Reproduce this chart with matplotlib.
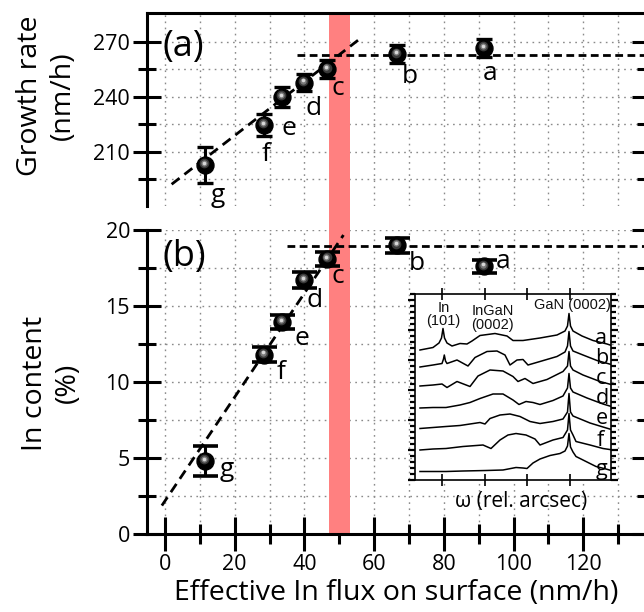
import matplotlib
matplotlib.use("Agg")
import matplotlib.pyplot as plt
import matplotlib.transforms as mtransforms
from matplotlib.patches import Rectangle
from matplotlib.ticker import MultipleLocator, FixedLocator, NullFormatter

plt.rcParams['font.family'] = ['Open Sans', 'DejaVu Sans']

# ---------------- data ----------------
samples = ['a', 'b', 'c', 'd', 'e', 'f', 'g']
in_flux = [91.5, 66.5, 46.6, 39.8, 33.5, 28.3, 11.5]           # nm/h
growth_rate = [266.6, 263.2, 255.0, 247.7, 239.8, 224.6, 202.7]  # nm/h
growth_err = [4.8, 5.0, 5.0, 4.6, 5.6, 5.8, 10.0]
in_content = [17.6, 19.0, 18.1, 16.7, 13.95, 11.8, 4.8]         # %
in_content_err = [0.41, 0.49, 0.46, 0.51, 0.48, 0.49, 0.99]

# guide lines (linear regime and plateau)
gr_slope_x = [1.9, 56.0]
gr_slope_y = [192.2, 271.8]
gr_plateau = 262.7
gr_plateau_start = 37.8
ic_slope_x = [-0.9, 51.2]
ic_slope_y = [1.87, 19.67]
ic_plateau = 18.94
ic_plateau_start = 34.9
transition_band = [47.0, 53.0]

# XRD omega scans (relative units), one per sample
xrd_a_u = [5, 18, 24, 26.5, 28, 29.5, 32, 37, 45, 52, 57, 65, 80, 92, 98, 108, 125, 142, 150, 152.5, 154, 155.5, 158, 167, 178, 192, 198]
xrd_a_v = [130, 132.5, 137, 142, 151.5, 142, 137, 134, 136.5, 136, 139, 144.5, 146.5, 144, 139.5, 139.5, 142, 145, 149, 154, 166.5, 154, 149, 144, 139.5, 136, 134]
xrd_b_u = [5, 18, 27, 28.5, 29.3, 30.5, 32, 42, 53, 60, 72, 82, 90, 95, 102, 108, 113, 125, 142, 150, 152.5, 154, 155.5, 158, 168, 182, 198]
xrd_b_v = [113, 115, 116.5, 121, 125, 119, 116.5, 120, 114, 122.5, 128.5, 129, 125, 115, 120, 120.5, 115, 118.5, 123.5, 128, 134, 148.5, 134, 129, 125, 119.5, 115]
xrd_c_u = [5, 18, 27, 32, 42, 55, 63, 75, 88, 98, 103, 110, 118, 132, 148, 152.5, 154, 155.5, 158, 168, 185, 198]
xrd_c_v = [94, 95, 96, 92.5, 98.5, 93.5, 104, 110, 109, 103.5, 98.5, 101.5, 96.5, 100.5, 108.5, 114, 128.5, 114, 110, 105, 98.5, 95]
xrd_d_u = [5, 18, 31, 45, 55, 65, 78, 88, 98, 104, 111, 118, 125, 138, 148, 152.5, 154, 155.5, 158, 172, 188, 198]
xrd_d_v = [72, 72.5, 72.5, 75, 77.5, 81.5, 86, 86, 80, 75.5, 78.5, 77.5, 75.5, 79.5, 84, 92, 106.5, 92, 88, 82, 76, 73]
xrd_e_u = [5, 18, 31, 45, 55, 65, 70, 75, 85, 95, 105, 115, 125, 138, 148, 152.5, 154, 155.5, 158, 175, 188, 198]
xrd_e_v = [51.5, 52.5, 53.5, 54.5, 56, 57.5, 56, 61.5, 65, 66, 63.5, 58.5, 56.5, 58.5, 61, 68, 86.5, 68, 64, 57, 53, 50]
xrd_f_u = [5, 18, 31, 48, 68, 76, 85, 93, 101, 111, 120, 125, 138, 148, 152.5, 154, 155.5, 158, 161, 175, 188, 198]
xrd_f_v = [30, 31, 31.5, 33.5, 35, 31.5, 40, 45, 46.5, 45, 41, 35, 40, 42.5, 50, 66.5, 50, 45, 38.5, 35, 31.5, 30]
xrd_g_u = [5, 31, 48, 71, 88, 101, 108, 112, 118, 125, 135, 145, 150, 152.5, 154, 155.5, 158, 161, 171, 181, 191, 198]
xrd_g_v = [8.5, 8.5, 9, 9.5, 10, 12.5, 12, 11.5, 17, 21, 24.5, 26.5, 29, 34, 46.5, 33, 28, 23.5, 18.5, 13.5, 11, 9]

# ---------------- layout helpers ----------------
W, H = 644, 612
def fx(px):
    return px / W
def fy(px):
    return 1 - px / H

fig = plt.figure(figsize=(W / 100, H / 100), dpi=100)
left_px, right_px = 146.7, 646.0
ax1 = fig.add_axes([fx(left_px), fy(205.7), fx(right_px) - fx(left_px), fy(13.3) - fy(205.7)])
ax2 = fig.add_axes([fx(left_px), fy(534.0), fx(right_px) - fx(left_px), fy(230.0) - fy(534.0)])

XLIM = (-5.25, 138.0)
band_color = '#ff8080'
grid_kw = dict(color='#8a8a8a', linestyle=(0, (1.2, 3.2)), linewidth=1.0)
LW = 2.2

for ax in (ax1, ax2):
    ax.set_xlim(*XLIM)
    ax.xaxis.set_major_locator(MultipleLocator(20))
    ax.xaxis.set_minor_locator(MultipleLocator(10))
    ax.grid(True, which='both', **grid_kw)
    ax.set_axisbelow(True)
    for sp in ax.spines.values():
        sp.set_linewidth(LW)
    ax.axvspan(transition_band[0], transition_band[1], color=band_color, lw=0, zorder=1)
    ax.tick_params(axis='y', which='major', direction='inout', length=20, width=LW,
                   left=True, right=True, labelsize=15.5, pad=2)
    ax.tick_params(axis='y', which='minor', direction='inout', length=13, width=LW,
                   left=True, right=True)

# band across the gap between the two panels
gap_tr = mtransforms.blended_transform_factory(ax2.transData, fig.transFigure)
fig.add_artist(Rectangle((transition_band[0], fy(230.5)), transition_band[1] - transition_band[0],
                         fy(205.2) - fy(230.5), transform=gap_tr, color=band_color, lw=0, zorder=0))

# ---- panel (a): growth rate ----
ax1.set_ylim(180.5, 285.6)
ax1.yaxis.set_major_locator(FixedLocator([210, 240, 270]))
ax1.yaxis.set_minor_locator(FixedLocator([195, 225, 255]))
ax1.spines['bottom'].set_visible(False)
ax1.tick_params(axis='x', which='both', bottom=False, top=False, labelbottom=False)

# ---- panel (b): In content ----
ax2.set_ylim(0, 20)
ax2.yaxis.set_major_locator(MultipleLocator(5))
ax2.yaxis.set_minor_locator(MultipleLocator(2.5))
ax2.spines['top'].set_visible(False)
ax2.tick_params(axis='x', which='major', direction='inout', length=24.5, width=LW,
                top=False, labelsize=15.5, pad=2)
ax2.tick_params(axis='x', which='minor', direction='inout', length=13.7, width=LW, top=False)


def draw_balls(ax, x, y):
    ax.plot(x, y, 'o', ms=12.2, mfc='black', mec='black', zorder=5)
    for d, col, dx, dy in [(7.0, '#3a3a3a', -0.6, 1.2), (4.6, '#7a7a7a', -0.7, 1.4),
                           (2.6, '#d8d8d8', -0.8, 1.6)]:
        tr = mtransforms.offset_copy(ax.transData, fig=fig, x=dx, y=dy, units='points')
        ax.plot(x, y, 'o', ms=d, mfc=col, mec='none', transform=tr, zorder=6)


dash_slope = (0, (3.6, 2.2))
dash_flat = (0, (2.8, 1.6))

# panel (a) marks
ax1.plot(gr_slope_x, gr_slope_y, color='black', lw=2.0, linestyle=dash_slope, zorder=3)
ax1.plot([gr_plateau_start, XLIM[1]], [gr_plateau, gr_plateau], color='black', lw=2.0,
         linestyle=dash_flat, zorder=3)
ax1.errorbar(in_flux, growth_rate, yerr=growth_err, fmt='none', ecolor='black',
             elinewidth=2.2, capsize=6.0, capthick=2.4, zorder=4)
draw_balls(ax1, in_flux, growth_rate)

# panel (b) marks
ax2.plot(ic_slope_x, ic_slope_y, color='black', lw=2.0, linestyle=dash_slope, zorder=3)
ax2.plot([ic_plateau_start, XLIM[1]], [ic_plateau, ic_plateau], color='black', lw=2.0,
         linestyle=dash_flat, zorder=3)
ax2.errorbar(in_flux, in_content, yerr=in_content_err, fmt='none', ecolor='black',
             elinewidth=2.2, capsize=9.0, capthick=2.6, zorder=4)
draw_balls(ax2, in_flux, in_content)

# sample letters next to the points (offsets in pixels: right, down)
top_label_offsets = [(6, 25), (13, 22), (10, 19), (10, 26), (7, 31), (2, 30), (13, 30)]
bot_label_offsets = [(19, -5), (20, 18), (10, 18), (11, 20), (20, 17), (17, 18), (22, 8)]
for s, x, y, (dx, dy) in zip(samples, in_flux, growth_rate, top_label_offsets):
    ax1.annotate(s, (x, y), xytext=(dx * 0.72, -dy * 0.72), textcoords='offset points',
                 ha='center', va='center', fontsize=19, zorder=7)
for s, x, y, (dx, dy) in zip(samples, in_flux, in_content, bot_label_offsets):
    ax2.annotate(s, (x, y), xytext=(dx * 0.72, -dy * 0.72), textcoords='offset points',
                 ha='center', va='center', fontsize=19, zorder=7)

ax1.text(-0.6, 267.1, '(a)', ha='left', va='center', fontsize=26, zorder=7)
ax2.text(-0.6, 18.2, '(b)', ha='left', va='center', fontsize=26, zorder=7)

# axis titles
fig.text(fx(46.5), fy(96), 'Growth rate\n(nm/h)', rotation=90, ha='center', va='center',
         fontsize=20.5, linespacing=1.25, multialignment='center')
fig.text(fx(51.5), fy(383), 'In content\n(%)', rotation=90, ha='center', va='center',
         fontsize=20.5, linespacing=1.25, multialignment='center')
fig.text(fx(396), fy(593), 'Effective In flux on surface (nm/h)', ha='center', va='center',
         fontsize=20.5)

# ---------------- inset: XRD omega scans ----------------
axin = fig.add_axes([fx(415), fy(480), fx(611) - fx(415), fy(294) - fy(480)])
axin.set_facecolor('white')
axin.set_xlim(0, 196)
axin.set_ylim(0, 186)
for sp in axin.spines.values():
    sp.set_linewidth(1.2)
axin.xaxis.set_major_locator(FixedLocator([26.7, 69.5, 112.3, 155]))
axin.xaxis.set_major_formatter(NullFormatter())
axin.yaxis.set_major_locator(MultipleLocator(30))
axin.yaxis.set_minor_locator(MultipleLocator(6))
axin.yaxis.set_major_formatter(NullFormatter())
axin.tick_params(axis='x', which='major', direction='inout', length=8, width=1.2,
                 bottom=True, top=True)
axin.tick_params(axis='y', which='major', direction='out', length=5, width=1.6,
                 left=True, right=True)
axin.tick_params(axis='y', which='minor', direction='out', length=3.5, width=1.6,
                 left=True, right=True)

scans = [(xrd_a_u, xrd_a_v), (xrd_b_u, xrd_b_v), (xrd_c_u, xrd_c_v), (xrd_d_u, xrd_d_v),
         (xrd_e_u, xrd_e_v), (xrd_f_u, xrd_f_v), (xrd_g_u, xrd_g_v)]
for u, v in scans:
    axin.plot(u, v, color='black', lw=1.1)

inset_font = dict(family=['Liberation Sans', 'DejaVu Sans'], fontsize=10.5, color='#111111',
                  ha='center', va='center')
axin.text(28.5, 172.5, 'In', **inset_font)
axin.text(28.5, 159.5, '(101)', **inset_font)
axin.text(77.5, 169, 'InGaN', **inset_font)
axin.text(77.5, 154.5, '(0002)', **inset_font)
axin.text(157, 175, 'GaN (0002)', **inset_font)

scan_label_pos = [(186, 142), (187, 121), (186, 102), (187, 81), (187, 61), (185, 40), (187, 10)]
for s, (u, v) in zip(samples, scan_label_pos):
    axin.text(u, v, s, ha='center', va='center', fontsize=15.5, clip_on=False)

axin.text(0.541, -0.118, 'ω (rel. arcsec)', transform=axin.transAxes, ha='center',
          va='center', fontsize=15)

fig.savefig('out.png', dpi=100)
